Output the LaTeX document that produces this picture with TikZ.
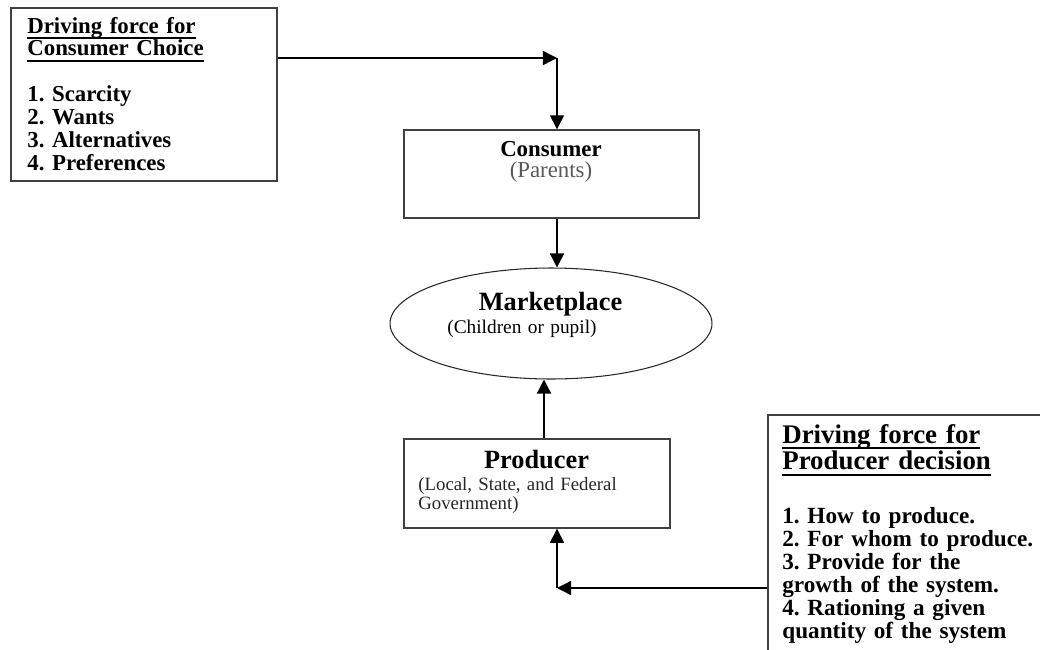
\documentclass[tikz,border=0pt]{standalone}
\usepackage{fontspec}
\setmainfont{Liberation Serif}
\usepackage{xcolor}
\usetikzlibrary{shapes.geometric}
\usetikzlibrary{arrows.meta,calc}

\newcommand{\headul}[1]{\leavevmode\setbox0\hbox{#1}\rlap{\rule[-3.6pt]{\wd0}{1.3pt}}\box0}
\definecolor{softgray}{gray}{0.35}
\frenchspacing

\begin{document}
\begin{tikzpicture} [
       x=0.02cm, y=-0.02cm,
       auto,
       cadre/.style={rectangle, draw=black!75, line width=0.8pt, inner sep=0pt},
       marche/.style={ellipse, draw=black!85, line width=0.6pt, inner sep=0pt,
               minimum width=6.44cm, minimum height=2.22cm},
       texte/.style={text width=6cm, align=left, anchor=base west, inner sep=0pt},
       titre/.style={text width=5cm, align=center, anchor=base, inner sep=0pt},
        line/.style     = { draw, line width=0.8pt, -{Triangle[length=8pt,width=8pt]} },
       ]
       \useasboundingbox (0,0) rectangle (1040,649);
       \clip (0,0) rectangle (1040,649);
       % boxes
       \node (consumerforce) [cadre, minimum width=5.32cm, minimum height=3.46cm] at (144,94.5) {};
       \node (choicetext) [texte, font=\bfseries\fontsize{13}{13}\selectfont] at (27,33)
               {\headul{Driving force for}\\ \headul{Consumer Choice}\\[13pt]
                1. Scarcity\\ 2. Wants\\ 3. Alternatives\\ 4. Preferences};
       \node (consumer) [cadre, minimum width=5.9cm, minimum height=1.76cm] at (551.5,174) {};
       \node (consumertext) [titre, font=\fontsize{13}{12}\selectfont] at (551,156)
               {\textbf{Consumer}\\ \textcolor{softgray}{(Parents)}};
       \node (market) [marche] at (551,323.5) {};
       \node (markettitle) [titre, font=\bfseries\fontsize{15}{15}\selectfont] at (550.5,310) {Marketplace};
       \node (markettext) [texte, font=\fontsize{11}{11}\selectfont] at (447,333) {(Children or pupil)};
       \node (producer) [cadre, minimum width=5.32cm, minimum height=1.78cm] at (537,483.5) {};
       \node (producertitle) [titre, font=\bfseries\fontsize{15}{15}\selectfont] at (536.5,468) {Producer};
       \node (producertext) [texte, font=\fontsize{10.7}{11.3}\selectfont, text=black!85] at (418,490)
               {(Local, State, and Federal\\ Government)};
       \node (producerforce) [cadre, minimum width=6cm, minimum height=5cm] at (918,540) {};
       \node (decisiontitle) [texte, font=\bfseries\fontsize{15.3}{15.3}\selectfont] at (782,443)
               {\headul{Driving force for}\\ \headul{Producer decision}};
       \node (decisiontext) [texte, font=\bfseries\fontsize{13.2}{13.2}\selectfont] at (782,523)
               {1. How to produce.\\ 2. For whom to produce.\\ 3. Provide for the\\
                growth of the system.\\ 4. Rationing a given\\ quantity of the system};
       % corners of the bent arrows
       \coordinate (corner1) at (557,58);
       \coordinate (corner2) at (557,588);
        \begin{scope}[every path/.style=line]
        \path (consumerforce.east |- corner1) -- (corner1);
        \path (corner1) -- (consumer.north -| corner1);
        \path (consumer.south -| corner1) -- (market.north -| corner1);
        \path ([xshift=0.14cm]producer.north) -- ([xshift=0.14cm]producer.north |- market.south);
        \path (producerforce.west |- corner2) -- (corner2);
        \path (corner2) -- (producer.south -| corner2);
\end{scope}
\end{tikzpicture}
\end{document}
